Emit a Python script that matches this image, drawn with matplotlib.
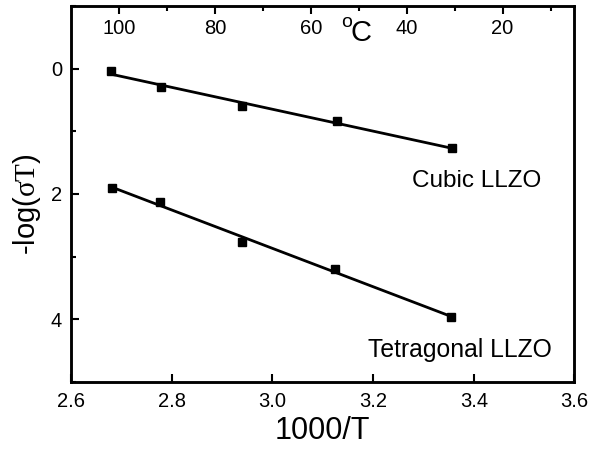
import numpy as np
import matplotlib
matplotlib.use("Agg")
import matplotlib.pyplot as plt

plt.rcParams['font.family'] = ['Liberation Sans', 'DejaVu Sans']
plt.rcParams['mathtext.fontset'] = 'custom'
plt.rcParams['mathtext.rm'] = 'Liberation Serif'
plt.rcParams['mathtext.it'] = 'Liberation Serif:italic'

# Data
inv_T_cubic = [2.679, 2.778, 2.940, 3.128, 3.356]
neglog_cubic = [0.04, 0.29, 0.60, 0.83, 1.27]
inv_T_tet = [2.681, 2.777, 2.940, 3.125, 3.354]
neglog_tet = [1.91, 2.12, 2.77, 3.20, 3.96]

x_ticks = [2.6, 2.8, 3.0, 3.2, 3.4, 3.6]
x_ticklabels = ['2.6', '2.8', '3.0', '3.2', '3.4', '3.6']
y_ticks = [0, 2, 4]
y_minor = [-1, 1, 3, 5]
top_ticks = [100, 80, 60, 40, 20]
top_minor = [90, 70, 50, 30, 10]
labels = ['Cubic LLZO', 'Tetragonal LLZO']

fig = plt.figure(figsize=(5.92, 4.51), dpi=100)
ax = fig.add_axes([0.120, 0.153, 0.8504, 0.8337])

for xs, ys in [(inv_T_cubic, neglog_cubic), (inv_T_tet, neglog_tet)]:
    xs = np.array(xs); ys = np.array(ys)
    p = np.polyfit(xs, ys, 1)
    xl = np.array([xs[0], xs[-1]])
    ax.plot(xl, np.polyval(p, xl), color='black', lw=2.0, zorder=2)
    ax.plot(xs, ys, 's', color='black', ms=5.5, zorder=3)

ax.set_xlim(2.6, 3.6)
ax.set_ylim(5, -1)
ax.set_xticks(x_ticks)
ax.set_xticklabels(x_ticklabels)
ax.set_yticks(y_ticks)
ax.set_yticks(y_minor, minor=True)
ax.tick_params(axis='both', which='major', direction='in', length=6, width=1.5,
               labelsize=14.5, top=False, right=False)
ax.tick_params(axis='x', which='major', pad=7)
ax.tick_params(axis='y', which='major', pad=6.5)
ax.tick_params(axis='y', which='minor', direction='in', length=3.5, width=1.5, right=False)
for s in ax.spines.values():
    s.set_linewidth(1.8)

ax.set_xlabel('1000/T', fontsize=22, labelpad=4)
ax.set_ylabel('-log($\\mathrm{σT}$)', fontsize=21)
ax.yaxis.set_label_coords(-0.056, 0.473)

# top axis in degrees Celsius
ax2 = ax.twiny()
ax2.set_xlim(110, 5)
ax2.set_xticks(top_ticks)
ax2.set_xticks(top_minor, minor=True)
ax2.tick_params(axis='x', which='major', direction='in', length=6, width=1.5,
                labelsize=14.5, pad=-23)
ax2.tick_params(axis='x', which='minor', direction='in', length=3.5, width=1.5)
for s in ax2.spines.values():
    s.set_linewidth(1.8)

fig.text(341 / 592, 1 - 27 / 451, 'o', fontsize=14, ha='left', va='baseline')
fig.text(351 / 592, 1 - 40.7 / 451, 'C', fontsize=21, ha='left', va='baseline')

ax.text(3.277, 1.893, labels[0], fontsize=17.5, ha='left', va='baseline')
ax.text(3.190, 4.597, labels[1], fontsize=17.8, ha='left', va='baseline')

fig.savefig('out.png', dpi=100, facecolor='white')
